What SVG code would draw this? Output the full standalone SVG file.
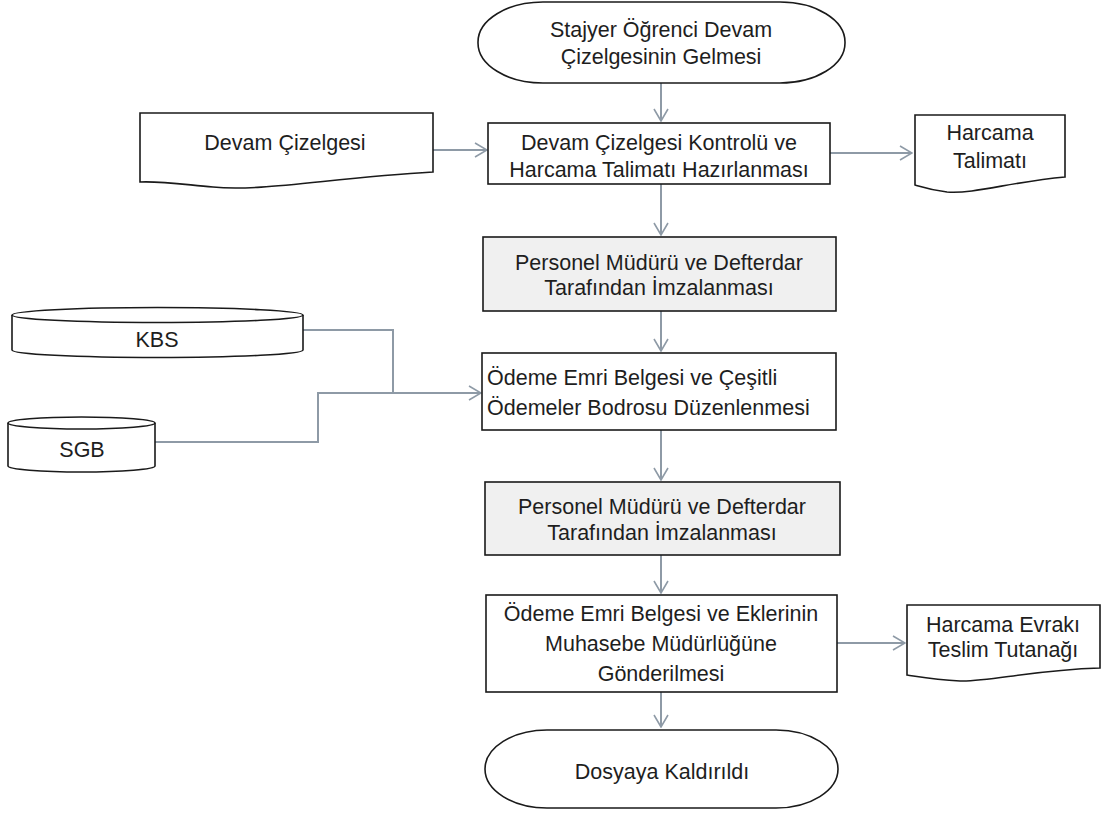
<svg xmlns="http://www.w3.org/2000/svg" width="1107" height="813" viewBox="0 0 1107 813">
<defs>
<style>
.n{fill:#fff;stroke:#1a1a1a;stroke-width:1.6}
.g{fill:#f0f0f0;stroke:#1a1a1a;stroke-width:1.6}
.t{font-family:"Liberation Sans",Arial,sans-serif;font-size:21.5px;fill:#1e1e1e;text-anchor:middle;dominant-baseline:central}
.l{text-anchor:start}
.c{fill:none;stroke:#8e9aa6;stroke-width:2}
</style>
<marker id="a" viewBox="0 0 14 16" refX="13" refY="8" markerWidth="14" markerHeight="16" markerUnits="userSpaceOnUse" orient="auto">
<path d="M1,1 L13,8 L1,15" fill="none" stroke="#8e9aa6" stroke-width="1.6"/>
</marker>
</defs>
<rect width="1107" height="813" fill="#fff"/>
<g id="connectors">
<path class="c" d="M661,83 V121" marker-end="url(#a)"/>
<path class="c" d="M433,150 H487" marker-end="url(#a)"/>
<path class="c" d="M830,153 H912" marker-end="url(#a)"/>
<path class="c" d="M661,184 V235" marker-end="url(#a)"/>
<path class="c" d="M661,311 V351" marker-end="url(#a)"/>
<path class="c" d="M303,330 H393 V393"/>
<path class="c" d="M155,442 H318 V393 H481" marker-end="url(#a)"/>
<path class="c" d="M661,430 V480" marker-end="url(#a)"/>
<path class="c" d="M661,555 V593" marker-end="url(#a)"/>
<path class="c" d="M837,643 H905" marker-end="url(#a)"/>
<path class="c" d="M661,692 V727" marker-end="url(#a)"/>
</g>
<g id="start">
<rect class="n" x="478" y="2" width="367" height="81" rx="65" ry="40"/>
<text class="t" x="661" y="30">Stajyer Öğrenci Devam</text>
<text class="t" x="661" y="57">Çizelgesinin Gelmesi</text>
</g>
<g id="devam-cizelgesi">
<path class="n" d="M140,113 H433 V172 C330,178 260,192 213,187 C180,184 160,181 140,182 Z"/>
<text class="t" x="285" y="143">Devam Çizelgesi</text>
</g>
<g id="kontrol">
<rect class="n" x="488" y="123" width="342" height="61"/>
<text class="t" x="659" y="143">Devam Çizelgesi Kontrolü ve</text>
<text class="t" x="659" y="170">Harcama Talimatı Hazırlanması</text>
</g>
<g id="harcama-talimati">
<path class="n" d="M915,115 H1065 V177 C1010,182 975,194 947,192 C930,190 922,187 915,185 Z"/>
<text class="t" x="990" y="133">Harcama</text>
<text class="t" x="990" y="161">Talimatı</text>
</g>
<g id="imza1">
<rect class="g" x="483" y="237" width="353" height="74"/>
<text class="t" x="659" y="263">Personel Müdürü ve Defterdar</text>
<text class="t" x="659" y="288">Tarafından İmzalanması</text>
</g>
<g id="kbs">
<path class="n" d="M12,315 V350 A145.5,7.5 0 0 0 303,350 V315"/>
<ellipse class="n" cx="157.5" cy="315" rx="145.5" ry="7.5"/>
<text class="t" x="157" y="340">KBS</text>
</g>
<g id="sgb">
<path class="n" d="M8,423 V466 A73.5,6 0 0 0 155,466 V423"/>
<ellipse class="n" cx="81.5" cy="423" rx="73.5" ry="6"/>
<text class="t" x="82" y="450">SGB</text>
</g>
<g id="odeme-emri">
<rect class="n" x="482" y="353" width="354" height="77"/>
<text class="t l" x="487" y="378">Ödeme Emri Belgesi ve Çeşitli</text>
<text class="t l" x="487" y="408">Ödemeler Bodrosu Düzenlenmesi</text>
</g>
<g id="imza2">
<rect class="g" x="485" y="482" width="355" height="73"/>
<text class="t" x="662" y="507">Personel Müdürü ve Defterdar</text>
<text class="t" x="662" y="533">Tarafından İmzalanması</text>
</g>
<g id="gonderilmesi">
<rect class="n" x="486" y="595" width="351" height="97"/>
<text class="t" x="661" y="614">Ödeme Emri Belgesi ve Eklerinin</text>
<text class="t" x="661" y="644">Muhasebe Müdürlüğüne</text>
<text class="t" x="661" y="674">Gönderilmesi</text>
</g>
<g id="harcama-evraki">
<path class="n" d="M907,605 H1100 V668 C1030,670 990,682 960,681 C935,680 920,677 907,675 Z"/>
<text class="t" x="1003" y="625">Harcama Evrakı</text>
<text class="t" x="1003" y="650">Teslim Tutanağı</text>
</g>
<g id="end">
<rect class="n" x="485" y="730" width="353" height="78" rx="62" ry="39"/>
<text class="t" x="662" y="772">Dosyaya Kaldırıldı</text>
</g>
</svg>
